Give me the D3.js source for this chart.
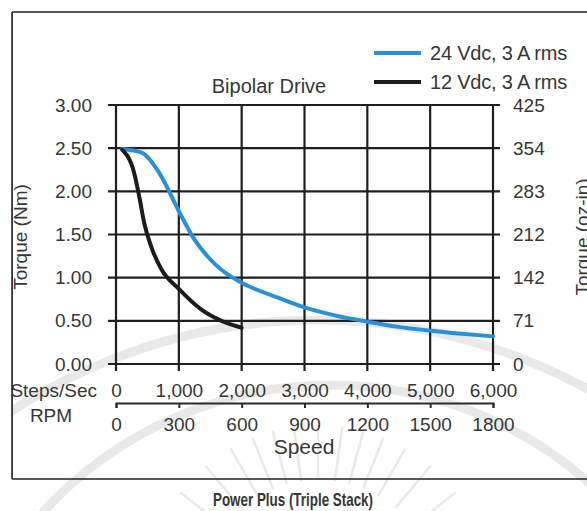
<!DOCTYPE html>
<html>
<head>
<meta charset="utf-8">
<script src="https://cdn.jsdelivr.net/npm/d3@7"></script>
<style>
  html, body { margin: 0; padding: 0; background: #fff; }
  svg { display: block; }
  text { font-family: "Liberation Sans", Arial, sans-serif; fill: #363636; }
</style>
</head>
<body>
<svg id="chart" width="587" height="511"></svg>
<script>
// Speed–torque data, steps/sec vs. torque in N·m
const speed24 = [100, 400, 700, 1000, 1250, 1600, 2000, 2500, 3000, 3500, 4000, 4500, 5000, 5500, 6000];
const torque24 = [2.49, 2.45, 2.2, 1.77, 1.44, 1.14, 0.94, 0.79, 0.655, 0.56, 0.49, 0.43, 0.385, 0.35, 0.32];
const speed12 = [100, 290, 370, 450, 560, 720, 1000, 1360, 1680, 2000];
const torque12 = [2.48, 2.21, 1.94, 1.63, 1.36, 1.10, 0.87, 0.63, 0.50, 0.42];

const seriesNames = ["24 Vdc, 3 A rms", "12 Vdc, 3 A rms"];
const seriesColors = ["#2a90d8", "#1c1c1c"];

const torqueTicks = [0, 0.5, 1, 1.5, 2, 2.5, 3];
const ozInTicks = [0, 71, 142, 212, 283, 354, 425];
const stepTicks = [0, 1000, 2000, 3000, 4000, 5000, 6000];
const rpmTicks = [0, 300, 600, 900, 1200, 1500, 1800];

const svg = d3.select("#chart");

const x = d3.scaleLinear().domain([0, 6000]).range([116, 493]);
const rpm = d3.scaleLinear().domain([0, 1800]).range([116, 493]);
const y = d3.scaleLinear().domain([0, 3]).range([364, 105]);
const yOz = d3.scaleLinear().domain([0, 425]).range([364, 105]);

// faint background emblem
const wm = svg.append("g").attr("fill", "none").attr("stroke", "#e9e9e9");
wm.append("circle").attr("cx", 331).attr("cy", 775).attr("r", 390).attr("stroke-width", 9);
wm.append("circle").attr("cx", 318).attr("cy", 880).attr("r", 560).attr("stroke-width", 9);
const rays = [-52, -40, -30, -22, -15, -8, 0, 8, 15, 22, 30, 40, 52];
wm.selectAll("line.ray").data(rays).join("line")
  .attr("class", "ray")
  .attr("stroke-width", 2.5)
  .attr("x1", d => 318 + 120 * Math.sin(d * Math.PI / 180))
  .attr("y1", d => 600 - 120 * Math.cos(d * Math.PI / 180))
  .attr("x2", d => 318 + 175 * Math.sin(d * Math.PI / 180))
  .attr("y2", d => 600 - 175 * Math.cos(d * Math.PI / 180));

// outer frame
svg.append("rect").attr("x", 12).attr("y", 12).attr("width", 600).attr("height", 467)
  .attr("fill", "none").attr("stroke", "#2e2e2e").attr("stroke-width", 1.6);

// grid
const grid = svg.append("g").attr("stroke", "#1e1e1e").attr("stroke-width", 2.2);
grid.selectAll("line.h").data(torqueTicks).join("line")
  .attr("x1", 108).attr("x2", 500)
  .attr("y1", d => y(d)).attr("y2", d => y(d));
grid.selectAll("line.v").data(stepTicks).join("line")
  .attr("y1", 105).attr("y2", 371)
  .attr("x1", d => x(d)).attr("x2", d => x(d));

const fs = 19;

// left axis labels (N·m)
const gl = svg.append("g").attr("transform", "translate(116,0)")
  .call(d3.axisLeft(y).tickValues(torqueTicks).tickFormat(d3.format(".2f")).tickSize(0).tickPadding(24));
gl.select(".domain").remove();
gl.selectAll("text").attr("font-size", fs).attr("font-family", null).attr("fill", "#363636");

// right axis labels (oz-in)
const gr = svg.append("g").attr("transform", "translate(493,0)")
  .call(d3.axisRight(yOz).tickValues(ozInTicks).tickFormat(d3.format("d")).tickSize(0).tickPadding(20));
gr.select(".domain").remove();
gr.selectAll("text").attr("font-size", fs).attr("font-family", null).attr("fill", "#363636");

// steps/sec labels above the speed scale
const gs = svg.append("g").attr("transform", "translate(0,403)")
  .call(d3.axisTop(x).tickValues(stepTicks).tickFormat(d3.format(",")).tickSize(0).tickPadding(6));
gs.select(".domain").remove();
gs.selectAll("text").attr("font-size", fs).attr("font-family", null).attr("fill", "#363636");

// RPM scale with ticks below
const gb = svg.append("g").attr("transform", "translate(0,403)")
  .call(d3.axisBottom(rpm).tickValues(rpmTicks).tickFormat(d3.format("d")).tickSize(5).tickPadding(10));
gb.select(".domain").attr("stroke", "#2a2a2a").attr("stroke-width", 2);
gb.selectAll(".tick line").attr("stroke", "#2a2a2a").attr("stroke-width", 2);
gb.selectAll("text").attr("font-size", fs).attr("font-family", null).attr("fill", "#363636");

svg.append("text").attr("x", 97).attr("y", 397).attr("text-anchor", "end")
  .attr("font-size", fs).text("Steps/Sec");
svg.append("text").attr("x", 51).attr("y", 422).attr("text-anchor", "middle")
  .attr("font-size", fs).text("RPM");
svg.append("text").attr("x", 304).attr("y", 454).attr("text-anchor", "middle")
  .attr("font-size", 21).text("Speed");

// axis titles
svg.append("text").attr("transform", "translate(27,237) rotate(-90)")
  .attr("text-anchor", "middle").attr("font-size", fs).text("Torque (Nm)");
svg.append("text").attr("transform", "translate(589,237) rotate(-90)")
  .attr("text-anchor", "middle").attr("font-size", fs).text("Torque (oz-in)");
// keep the frame edge over the clipped title
svg.append("rect").attr("x", 0).attr("y", 0).attr("width", 12).attr("height", 511).attr("fill", "#fff");
svg.append("line").attr("x1", 12).attr("x2", 12).attr("y1", 12).attr("y2", 479)
  .attr("stroke", "#2e2e2e").attr("stroke-width", 1.6);

// chart title
svg.append("text").attr("x", 269).attr("y", 93).attr("text-anchor", "middle")
  .attr("font-size", 20).text("Bipolar Drive");

// curves
const line = d3.line().x(d => x(d[0])).y(d => y(d[1])).curve(d3.curveMonotoneX);
const series = [
  d3.zip(speed24, torque24),
  d3.zip(speed12, torque12)
];
svg.selectAll("path.curve").data(series).join("path")
  .attr("class", "curve")
  .attr("fill", "none")
  .attr("stroke", (d, i) => seriesColors[i])
  .attr("stroke-width", 4)
  .attr("stroke-linecap", "round")
  .attr("d", line);

// legend
const lg = svg.append("g");
const legendY = [53, 82];
seriesNames.forEach((name, i) => {
  lg.append("line").attr("x1", 374).attr("x2", 421)
    .attr("y1", legendY[i]).attr("y2", legendY[i])
    .attr("stroke", seriesColors[i]).attr("stroke-width", 4);
  lg.append("text").attr("x", 430).attr("y", legendY[i] + 7)
    .attr("font-size", 20).attr("letter-spacing", -0.2).text(name);
});

// bottom caption
svg.append("text").attr("x", 293).attr("y", 506).attr("text-anchor", "middle")
  .attr("font-size", 18.5).attr("font-weight", "bold")
  .attr("textLength", 160).attr("lengthAdjust", "spacingAndGlyphs")
  .text("Power Plus (Triple Stack)");
</script>
</body>
</html>
